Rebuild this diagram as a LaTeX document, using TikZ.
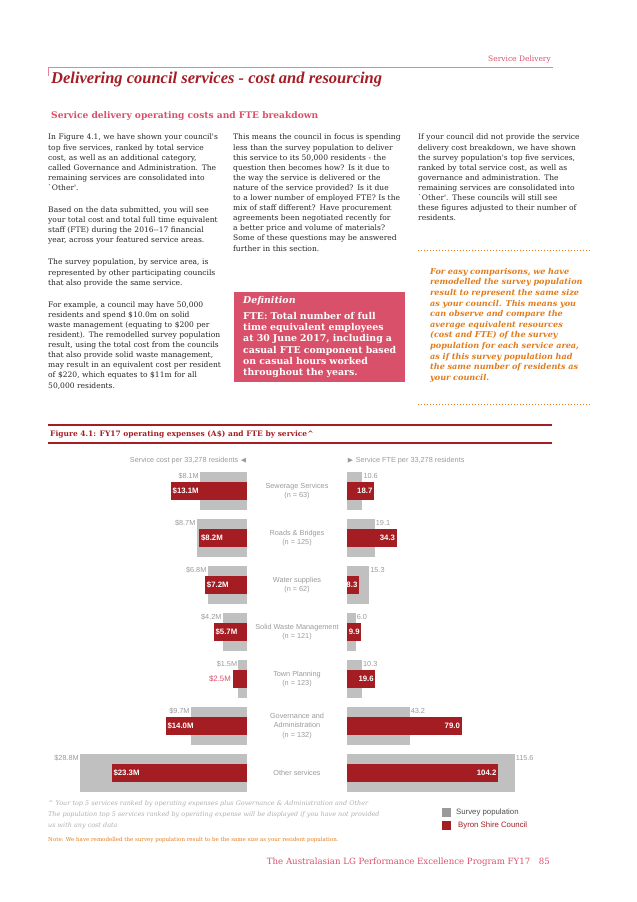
\documentclass[tikz,border=0pt]{standalone}
\usepackage{amssymb}
\usepackage{fontspec}
\setmainfont{Liberation Serif}
\setsansfont{Liberation Sans}
\newfontfamily\bodyfont{DejaVu Serif}
\hyphenpenalty=10000
\definecolor{darkred}{HTML}{A51C24}
\definecolor{pinkred}{HTML}{D9506A}
\definecolor{barred}{HTML}{A31D23}
\definecolor{bargrey}{HTML}{C0C0C0}
\definecolor{txtgrey}{HTML}{9A9A9A}
\definecolor{orng}{HTML}{E07B1A}
\tikzset{
  body/.style={anchor=north west,inner sep=0pt,align=left,text width=#1,font=\bodyfont\fontsize{7.55}{10.1}\selectfont,text=black!85},
  lab/.style={font=\sffamily\fontsize{7.3}{8}\selectfont,text=txtgrey,inner sep=1pt},
  redlab/.style={font=\sffamily\bfseries\fontsize{7.8}{8}\selectfont,text=white,inner sep=1.5pt},
  cat/.style={font=\sffamily\fontsize{7.3}{9.5}\selectfont,text=txtgrey,align=center},
  dots/.style={orng,line width=1pt,dash pattern=on 0.8pt off 2.2pt}
}
\begin{document}
\hyphenpenalty=10000
\begin{tikzpicture}[x=1pt,y=-1pt]
\useasboundingbox (0,0) rectangle (637,902);
% header
\node [anchor=south east,inner sep=0pt,text=pinkred,font=\bodyfont\fontsize{7.5}{9}\selectfont] (sec) at (551,63) {Service Delivery};
\draw [pinkred!70,line width=0.8pt] (48,76) -- (48,67) -- (553,67);
\node [anchor=west,inner sep=0pt,text=darkred,font=\bfseries\itshape\fontsize{16.5}{18}\selectfont] (title) at (51,80) {Delivering council services - cost and resourcing};
\node [anchor=west,inner sep=0pt,text=pinkred,font=\bodyfont\bfseries\fontsize{9.1}{13}\selectfont] (sub) at (51,116) {Service delivery operating costs and FTE breakdown};
% column one
\node [body=174pt] (colA) at (48,134) {In Figure 4.1, we have shown your council's top five services, ranked by total service cost, as well as an additional category, called Governance and Administration. The remaining services are consolidated into `Other'.\\[12pt]
Based on the data submitted, you will see your total cost and total full time equivalent staff (FTE) during the 2016--17 financial year, across your featured service areas.\\[12pt]
The survey population, by service area, is represented by other participating councils that also provide the same service.\\[12pt]
For example, a council may have 50,000 residents and spend \$10.0m on solid waste management (equating to \$200 per resident). The remodelled survey population result, using the total cost from the councils that also provide solid waste management, may result in an equivalent cost per resident of \$220, which equates to \$11m for all 50,000 residents.};
% column two
\node [body=168pt] (colB) at (233,134) {This means the council in focus is spending less than the survey population to deliver this service to its 50,000 residents - the question then becomes how? Is it due to the way the service is delivered or the nature of the service provided? Is it due to a lower number of employed FTE? Is the mix of staff different? Have procurement agreements been negotiated recently for a better price and volume of materials? Some of these questions may be answered further in this section.};
\node [fill=pinkred,anchor=north west,minimum width=171pt,minimum height=90pt,inner sep=0pt] (defbox) at (234,292) {};
\node [anchor=north west,inner sep=0pt,text width=155pt,align=left,text=white,font=\bodyfont\bfseries\fontsize{9.4}{11.2}\selectfont] (deftxt) at (243,296) {\textit{Definition}\\[5pt]FTE: Total number of full time equivalent employees at 30 June 2017, including a casual FTE component based on casual hours worked throughout the years.};
% column three
\node [body=172pt] (colC) at (418,134) {If your council did not provide the service delivery cost breakdown, we have shown the survey population's top five services, ranked by total service cost, as well as governance and administration. The remaining services are consolidated into `Other'. These councils will still see these figures adjusted to their number of residents.};
\coordinate (dotA1) at (418,250); \coordinate (dotA2) at (590,250);
\coordinate (dotB1) at (418,404); \coordinate (dotB2) at (590,404);
\draw [dots] (dotA1) -- (dotA2);
\draw [dots] (dotB1) -- (dotB2);
\node [anchor=north west,inner sep=0pt,text width=155pt,align=left,text=orng,font=\bodyfont\bfseries\itshape\fontsize{8.1}{10.6}\selectfont] (note) at (430,268) {For easy comparisons, we have remodelled the survey population result to represent the same size as your council. This means you can observe and compare the average equivalent resources (cost and FTE) of the survey population for each service area, as if this survey population had the same number of residents as your council.};
% figure title
\draw [darkred,line width=1.2pt] (48,425) -- (552,425);
\draw [darkred,line width=1.2pt] (48,443) -- (552,443);
\node [anchor=west,inner sep=0pt,text=darkred,font=\bodyfont\bfseries\fontsize{7.5}{10}\selectfont] (figtitle) at (50,434) {Figure 4.1: FY17 operating expenses (A\$) and FTE by service\^{}};
\node [lab,anchor=east] (costhead) at (248,461) {Service cost per 33,278 residents $\blacktriangleleft$};
\node [lab,anchor=west] (ftehead) at (346,461) {$\blacktriangleright$ Service FTE per 33,278 residents};
% bars
\foreach \i/\name/\gc/\rc/\gf/\rf in {
  0/{Sewerage Services\\(n = 63)}/8.1/13.1/10.6/18.7,
  1/{Roads \& Bridges\\(n = 125)}/8.7/8.2/19.1/34.3,
  2/{Water supplies\\(n = 62)}/6.8/7.2/15.3/8.3,
  3/{Solid Waste Management\\(n = 121)}/4.2/5.7/6.0/9.9,
  4/{Town Planning\\(n = 123)}/1.5/2.5/10.3/19.6,
  5/{Governance and\\Administration\\(n = 132)}/9.7/14.0/43.2/79.0,
  6/{Other services}/28.8/23.3/115.6/104.2}{
  \pgfmathsetmacro{\yc}{491+47*\i}
  \fill [bargrey] (247,\yc-19) rectangle (247-5.8*\gc,\yc+19);
  \fill [barred] (247,\yc-9) rectangle (247-5.8*\rc,\yc+9);
  \fill [bargrey] (347,\yc-19) rectangle (347+1.45*\gf,\yc+19);
  \fill [barred] (347,\yc-9) rectangle (347+1.45*\rf,\yc+9);
  \node [lab,anchor=east] (gcost\i) at (247-5.8*\gc,\yc-15) {\$\gc M};
  \node [lab,anchor=west] (gfte\i) at (347+1.45*\gf,\yc-15) {\gf};
  \node [redlab,anchor=east] (rfte\i) at (347+1.45*\rf,\yc) {\rf};
  \node [cat] (cat\i) at (297,\yc) {\name};
}
\foreach \i/\rc in {0/13.1,1/8.2,2/7.2,3/5.7,5/14.0,6/23.3}{
  \pgfmathsetmacro{\yc}{491+47*\i}
  \node [redlab,anchor=west] (rcost\i) at (247-5.8*\rc,\yc) {\$\rc M};
}
\node [redlab,anchor=east,text=pinkred,font=\sffamily\fontsize{7.8}{8}\selectfont] (rcost4) at (247-5.8*2.5,679) {\$2.5M};
% footnotes
\node [anchor=north west,inner sep=0pt,text width=345pt,align=left,text=txtgrey!80,font=\bodyfont\itshape\fontsize{6.4}{11.2}\selectfont] (foot) at (48,800) {\^{} Your top 5 services ranked by operating expenses plus Governance \& Administration and Other\\The population top 5 services ranked by operating expense will be displayed if you have not provided\\us with any cost data};
\node [anchor=west,inner sep=0pt,text=orng,font=\bodyfont\fontsize{5.5}{7}\selectfont] (footnote) at (48,840) {Note: We have remodelled the survey population result to be the same size as your resident population.};
\fill [bargrey!80!black] (442,808) rectangle (451,817);
\fill [barred] (442,821) rectangle (451,830);
\node [anchor=west,inner sep=0pt,font=\sffamily\fontsize{7.8}{9}\selectfont,text=black!70] (legA) at (456,812) {Survey population};
\node [anchor=west,inner sep=0pt,font=\sffamily\fontsize{7.8}{9}\selectfont,text=barred] (legB) at (458,825) {Byron Shire Council};
\node [anchor=east,inner sep=0pt,text=pinkred,font=\bodyfont\fontsize{8.6}{11}\selectfont] (footer) at (550,862) {The Australasian LG Performance Excellence Program FY17\quad 85};
\end{tikzpicture}
\end{document}
